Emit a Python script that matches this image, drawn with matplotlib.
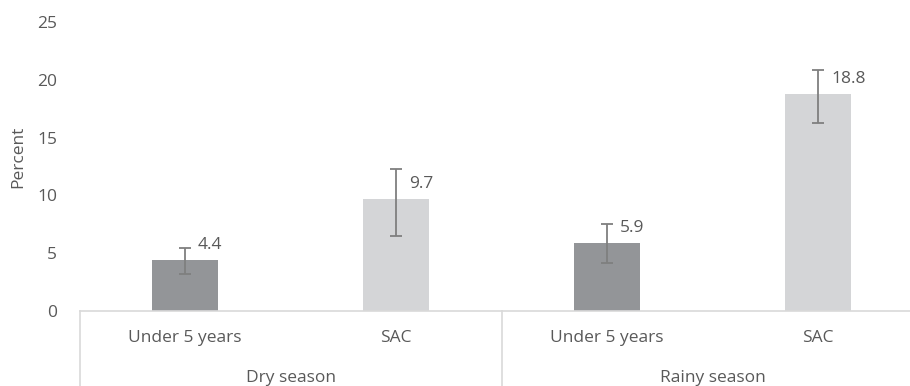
import matplotlib
matplotlib.use("Agg")
import matplotlib.pyplot as plt
from matplotlib.transforms import blended_transform_factory

groups = ["Dry season", "Rainy season"]
subcats = ["Under 5 years", "SAC", "Under 5 years", "SAC"]
values = [4.4, 9.7, 5.9, 18.8]
err_low = [3.2, 6.5, 4.15, 16.3]
err_high = [5.45, 12.3, 7.5, 20.85]
yticks = [0, 5, 10, 15, 20, 25]

colors = ["#939598", "#d4d5d7", "#939598", "#d4d5d7"]
txt = "#595959"
plt.rcParams['font.family'] = ['Open Sans', 'DejaVu Sans']
FS = 12.5

fig = plt.figure(figsize=(9.1, 3.86), dpi=100)
W, H = 910, 386
ax = fig.add_axes([79.5 / W, 1 - 311 / H, 844 / W, 289 / H])

x = list(range(len(values)))
yerr = [[v - l for v, l in zip(values, err_low)], [h - v for v, h in zip(values, err_high)]]
ax.bar(x, values, width=0.317, color=colors, zorder=2)
ax.errorbar(x, values, yerr=yerr, fmt='none', ecolor="#7f7f7f", elinewidth=1.3,
            capsize=4.5, capthick=1.3, zorder=3)
for xi, v in zip(x, values):
    ax.annotate(f"{v}", (xi, v), xytext=(13, 15), textcoords='offset pixels',
                ha='left', va='center', fontsize=FS, color=txt)

ax.set_xlim(-0.5, 3.5)
ax.set_ylim(0, 25)
ax.set_yticks(yticks)
ax.set_yticklabels([str(t) for t in yticks])
ax.tick_params(axis='y', length=0, pad=16, labelsize=FS, labelcolor=txt)
ax.set_xticks([])
for s in ['top', 'right', 'left']:
    ax.spines[s].set_visible(False)
ax.spines['bottom'].set_color('#d9d9d9')
ax.spines['bottom'].set_linewidth(1.2)

tr = blended_transform_factory(ax.transData, ax.transAxes)
px = 1 / 289
for xi, lab in zip(x, subcats):
    ax.text(xi, -27 * px, lab, transform=tr, ha='center', va='center',
            fontsize=FS, color=txt)
for gi, g in enumerate(groups):
    ax.text(2 * gi + 0.5, -67 * px, g, transform=tr, ha='center', va='center',
            fontsize=FS, color=txt)
for sx in [-0.5, 1.5, 3.5]:
    ax.plot([sx, sx], [0, -80 * px], transform=tr, color='#d9d9d9', lw=1.2, clip_on=False)

fig.text(18 / W, 1 - 157 / H, "Percent", rotation=90, ha='center', va='center',
         fontsize=FS, color=txt)

fig.savefig("out.png", dpi=100)
